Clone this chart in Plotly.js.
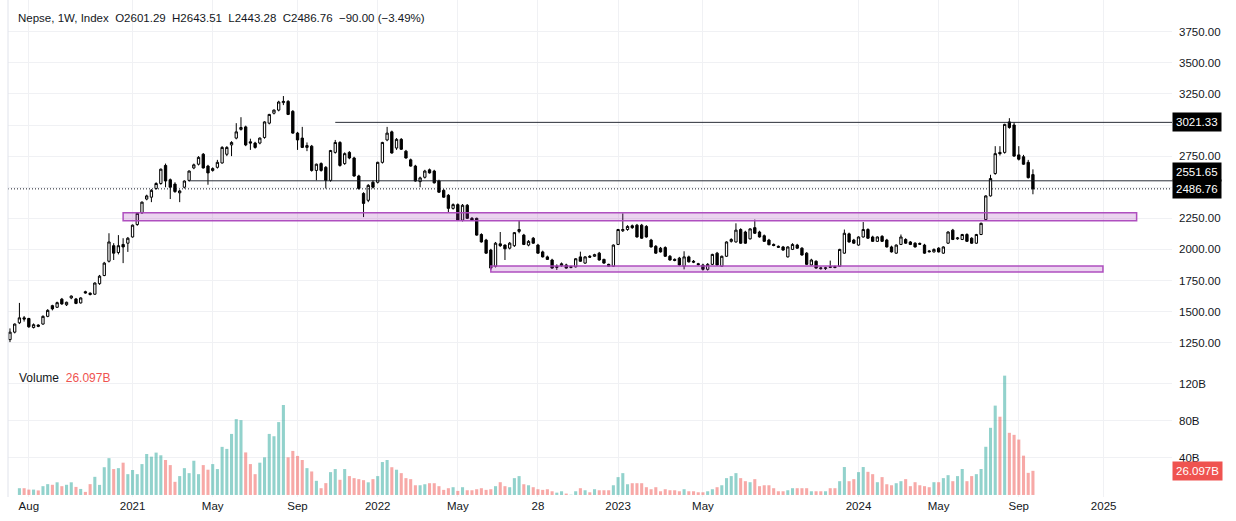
<!DOCTYPE html>
<html>
<head>
<meta charset="utf-8">
<script src="https://cdn.plot.ly/plotly-3.0.1.min.js"></script>
<style>
html,body{margin:0;padding:0;background:#ffffff;}
#chart{width:1236px;height:521px;}
</style>
</head>
<body>
<div id="chart"></div>
<script>
// Weekly bars (week start dates), NEPSE index
const dates = [
'2020-07-05','2020-07-12','2020-07-19','2020-07-26','2020-08-02','2020-08-09','2020-08-16','2020-08-23','2020-08-30','2020-09-06','2020-09-13','2020-09-20','2020-09-27','2020-10-04','2020-10-11','2020-10-18','2020-10-25','2020-11-01','2020-11-08','2020-11-15','2020-11-22','2020-11-29','2020-12-06','2020-12-13','2020-12-20','2020-12-27',
'2021-01-03','2021-01-10','2021-01-17','2021-01-24','2021-01-31','2021-02-07','2021-02-14','2021-02-21','2021-02-28','2021-03-07','2021-03-14','2021-03-21','2021-03-28','2021-04-04','2021-04-11','2021-04-18','2021-04-25','2021-05-02','2021-05-09','2021-05-16','2021-05-23','2021-05-30','2021-06-06','2021-06-13','2021-06-20','2021-06-27','2021-07-04','2021-07-11','2021-07-18','2021-07-25','2021-08-01','2021-08-08','2021-08-15','2021-08-22','2021-08-29','2021-09-05','2021-09-12','2021-09-19','2021-09-26','2021-10-03','2021-10-10','2021-10-17','2021-10-24','2021-10-31','2021-11-07','2021-11-14','2021-11-21','2021-11-28','2021-12-05','2021-12-12','2021-12-19','2021-12-26',
'2022-01-02','2022-01-09','2022-01-16','2022-01-23','2022-01-30','2022-02-06','2022-02-13','2022-02-20','2022-02-27','2022-03-06','2022-03-13','2022-03-20','2022-03-27','2022-04-03','2022-04-10','2022-04-17','2022-04-24','2022-05-01','2022-05-08','2022-05-15','2022-05-22','2022-05-29','2022-06-05','2022-06-12','2022-06-19','2022-06-26','2022-07-03','2022-07-10','2022-07-17','2022-07-24','2022-07-31','2022-08-07','2022-08-14','2022-08-21','2022-08-28','2022-09-04','2022-09-11','2022-09-18','2022-09-25','2022-10-09','2022-10-16','2022-10-23','2022-10-30','2022-11-06','2022-11-13','2022-11-20','2022-11-27','2022-12-04','2022-12-11','2022-12-18','2022-12-25',
'2023-01-01','2023-01-08','2023-01-15','2023-01-22','2023-01-29','2023-02-05','2023-02-12','2023-02-19','2023-02-26','2023-03-05','2023-03-12','2023-03-19','2023-03-26','2023-04-02','2023-04-09','2023-04-16','2023-04-23','2023-04-30','2023-05-07','2023-05-14','2023-05-21','2023-05-28','2023-06-04','2023-06-11','2023-06-18','2023-06-25','2023-07-02','2023-07-09','2023-07-16','2023-07-23','2023-07-30','2023-08-06','2023-08-13','2023-08-20','2023-08-27','2023-09-03','2023-09-10','2023-09-17','2023-09-24','2023-10-01','2023-10-08','2023-10-15','2023-10-29','2023-11-05','2023-11-19','2023-11-26','2023-12-03','2023-12-10','2023-12-17','2023-12-24','2023-12-31',
'2024-01-07','2024-01-14','2024-01-21','2024-01-28','2024-02-04','2024-02-11','2024-02-18','2024-02-25','2024-03-03','2024-03-10','2024-03-17','2024-03-24','2024-03-31','2024-04-07','2024-04-14','2024-04-21','2024-04-28','2024-05-05','2024-05-12','2024-05-19','2024-05-26','2024-06-02','2024-06-09','2024-06-16','2024-06-23','2024-06-30','2024-07-07','2024-07-14','2024-07-21','2024-07-28','2024-08-04','2024-08-11','2024-08-18','2024-08-25','2024-09-01','2024-09-08','2024-09-15','2024-09-22'
];

const open = [
1275,1335,1410,1450,1445,1372,1392,1400,1462,1548,1535,1600,1555,1610,1602,1570,1660,1648,1640,1725,
1790,1905,2030,1975,2040,2050,2100,2200,2295,2405,2420,2490,2530,2675,2560,2525,2455,2500,2555,2655,
2685,2765,2670,2635,2660,2695,2765,2840,2895,2965,2985,2865,2855,2855,2900,3015,3095,3120,3180,3190,
3110,2935,2895,2820,2830,2635,2690,2660,2555,2780,2860,2690,2780,2735,2590,2450,2395,2540,2540,2700,
2880,2945,2815,2885,2790,2720,2670,2545,2580,2640,2630,2550,2475,2435,2330,2360,2235,2355,2250,2250,
2120,2075,1995,1865,2045,2035,2010,2030,2145,2115,2035,2090,2035,1980,1940,1915,1855,1870,1875,1855,
1860,1940,1890,1945,1945,1970,1920,1880,1865,2040,2150,2160,2190,2195,2195,2185,2075,2025,2010,2015,
1945,1920,1930,1865,1940,1905,1885,1875,1840,1880,1970,1865,1945,2065,2060,2160,2140,2085,2175,2140,
2110,2075,2040,2025,2020,1940,2000,2035,2010,1970,1875,1905,1852,1846,1862,1862,1865,1970,2125,2075,
2035,2100,2160,2100,2065,2105,2075,2020,1970,2040,2080,2060,2050,2048,2035,1988,1980,2010,1970,2050,
2155,2085,2080,2120,2090,2050,2120,2240,2430,2610,2780,2780,3025,3000,2760,2745,2700,2601.29
];
const high = [
1365,1405,1570,1465,1450,1405,1398,1470,1520,1555,1580,1610,1580,1630,1610,1615,1668,1655,1735,1795,
1900,2130,2050,2115,2090,2100,2200,2295,2385,2440,2485,2540,2650,2690,2570,2540,2480,2555,2635,2690,
2750,2775,2680,2660,2720,2830,2830,2870,3015,3063,2995,2890,2865,2900,3030,3090,3125,3195,3233,3200,
3120,2945,2985,2860,2840,2690,2700,2670,2800,2880,2870,2780,2790,2745,2600,2460,2525,2555,2705,2865,
2985,2955,2895,2895,2800,2730,2680,2585,2640,2650,2640,2560,2485,2445,2370,2370,2365,2365,2260,2255,
2130,2085,2005,2060,2140,2040,2060,2140,2235,2125,2075,2100,2045,1990,1950,1925,1880,1895,1885,1870,
1930,1982,1945,1955,1965,1980,1925,1885,2040,2165,2290,2195,2200,2205,2205,2195,2085,2035,2020,2025,
1955,1928,1940,1985,1950,1915,1892,1885,1890,1965,1980,1950,2065,2090,2210,2170,2150,2170,2240,2150,
2120,2085,2048,2032,2028,2025,2050,2045,2018,1978,1925,1912,1860,1860,1910,1870,2005,2160,2135,2085,
2105,2220,2170,2110,2105,2115,2085,2030,2040,2120,2090,2068,2058,2056,2045,1995,2008,2018,2025,2145,
2165,2100,2125,2130,2098,2125,2215,2435,2600,2830,2830,3010,3055,3020,2830,2760,2720,2643.51
];
const low = [
1255,1325,1400,1420,1370,1365,1375,1395,1455,1510,1530,1555,1545,1600,1560,1565,1645,1630,1635,1715,
1785,1895,1915,1960,1890,1980,2095,2190,2285,2395,2380,2480,2520,2500,2405,2455,2380,2490,2545,2645,
2675,2650,2520,2625,2650,2690,2750,2750,2885,2955,2830,2800,2810,2845,2890,3005,3085,3110,3160,3080,
2930,2800,2815,2790,2625,2555,2625,2490,2545,2770,2665,2680,2725,2585,2480,2260,2380,2490,2530,2690,
2870,2770,2800,2800,2730,2665,2545,2500,2570,2610,2530,2455,2415,2300,2320,2230,2225,2245,2230,2110,
2055,1965,1835,1855,2020,1915,2000,2020,2130,2035,2025,2045,1965,1935,1915,1845,1835,1860,1845,1848,
1855,1900,1885,1932,1940,1910,1885,1860,1860,2035,2140,2150,2165,2095,2085,2095,2015,1965,1975,1940,
1910,1905,1870,1840,1895,1890,1870,1830,1830,1875,1870,1860,1940,2055,2055,2045,2045,2080,2125,2095,
2060,2033,2025,2012,1990,1935,1995,2005,1950,1875,1870,1845,1838,1835,1850,1848,1860,1965,2055,2045,
2030,2095,2085,2060,2060,2060,2015,1975,1965,2035,2045,2035,2015,2036,1965,1975,1975,1975,1965,2045,
2075,2078,2075,2060,2045,2045,2115,2235,2425,2600,2755,2770,2970,2745,2715,2680,2570,2443.28
];
const close = [
1335,1400,1450,1440,1378,1395,1382,1462,1510,1522,1572,1562,1575,1625,1566,1610,1650,1638,1730,1785,
1890,2060,1970,2030,2020,2090,2195,2290,2380,2430,2475,2530,2645,2550,2500,2465,2470,2550,2630,2680,
2740,2655,2615,2650,2700,2820,2820,2860,2945,2980,2840,2855,2820,2895,3025,3085,3120,3185,3190,3085,
2935,2880,2820,2835,2635,2685,2635,2555,2795,2860,2675,2770,2735,2590,2490,2370,2515,2500,2700,2860,
2935,2775,2885,2805,2735,2670,2550,2575,2630,2615,2535,2460,2420,2330,2360,2235,2355,2250,2235,2115,
2060,1970,1850,2050,2030,2005,2050,2135,2160,2040,2065,2050,1970,1940,1920,1850,1865,1885,1850,1862,
1925,1905,1940,1938,1958,1915,1890,1865,2035,2160,2160,2185,2175,2100,2090,2100,2020,1970,1980,1945,
1915,1912,1875,1940,1900,1898,1878,1840,1880,1960,1875,1945,2060,2080,2155,2050,2050,2165,2130,2100,
2065,2038,2032,2018,1995,2020,2040,2010,1955,1880,1915,1850,1846,1852,1856,1855,2000,2130,2060,2050,
2100,2160,2090,2065,2100,2065,2020,1980,2035,2100,2050,2040,2020,2042,1970,1982,2000,1980,2020,2140,
2080,2092,2120,2065,2050,2120,2210,2430,2570,2770,2770,3005,2980,2750,2725,2685,2576.76,2486.76
];
// Weekly volume, billions (first two weeks not shown in the reference)
const volume = [
null,null,7.3,7.3,5.8,5.8,4.9,9.5,11.7,11.0,13.7,9.5,11.0,13.7,8.7,6.5,3.3,11.7,19.6,10.9,
30.0,39.8,28.0,29.0,34.9,22.5,27.0,22.5,33.4,44.3,41.4,45.8,42.9,37.8,32.3,14.2,20.4,29.0,23.6,37.0,
22.5,32.3,27.3,33.4,28.0,52.0,49.8,66.0,82.0,80.9,46.0,33.4,22.5,34.9,40.7,66.0,63.5,78.8,97.3,40.7,
47.6,42.2,37.8,29.0,25.4,15.3,7.3,12.8,24.7,28.0,16.4,28.0,20.4,18.2,17.1,16.0,13.7,17.1,20.4,35.6,
37.8,30.0,27.3,23.6,18.2,17.1,10.5,10.5,11.6,12.7,12.7,9.5,5.5,7.3,8.4,4.4,8.4,5.1,5.1,6.2,
7.3,5.5,6.2,9.5,13.8,9.5,8.4,18.2,20.4,11.6,10.5,8.4,6.2,5.5,6.2,4.0,2.5,4.0,1.5,0.3,
4.0,7.3,5.1,2.9,6.2,5.1,5.1,5.1,10.5,19.3,23.6,11.6,12.7,12.7,12.7,8.4,6.2,8.4,4.0,6.2,
5.1,5.1,4.0,6.2,4.0,4.0,2.9,2.9,4.0,6.2,8.4,10.5,18.2,20.4,23.6,18.2,14.9,13.8,17.1,9.5,
10.5,10.5,7.3,4.0,4.0,5.1,7.3,7.3,7.3,7.3,4.0,4.0,4.0,4.0,7.3,7.3,14.9,30.2,14.9,17.1,
24.7,30.2,25.0,22.5,13.8,19.3,11.6,10.5,12.7,14.9,17.1,9.5,13.8,10.5,9.5,8.4,13.8,13.8,18.2,21.4,
14.9,20.4,28.1,14.9,20.4,22.5,28.1,52.1,72.6,96.6,84.6,129.0,67.2,65.0,59.9,42.5,23.9,26.097
];

const tickDates = ['2020-08-02','2021-01-03','2021-05-02','2021-09-05','2022-01-02','2022-05-01','2022-08-28','2023-01-01','2023-05-07','2024-01-07','2024-05-05','2024-09-01','2025-01-05'];
const tickLabels = ['Aug','2021','May','Sep','2022','May','28','2023','May','2024','May','Sep','2025'];
const priceTicks = [1250,1500,1750,2000,2250,2500,2750,3000,3250,3500,3750];
// 2500 and 3000 labels are hidden behind the price boxes in the reference
const priceTickLabels = ['1250.00','1500.00','1750.00','2000.00','2250.00','','2750.00','','3250.00','3500.00','3750.00'];
const volumeTicks = [40,80,120];
const volumeTickLabels = ['40B','80B','120B'];

// Drawings on the chart
const levelPrices = [3021.33, 2551.65];
const levelStarts = ['2021-10-31','2021-03-28'];
const zoneLows = [2231, 1818];
const zoneHighs = [2295, 1866];
const zoneStarts = ['2020-12-20','2022-06-19'];
const zoneEnds = ['2025-02-23','2025-01-04'];

// ---- helpers ----
const DAY = 86400000;
const last = dates.length - 1;
function pos(d){
  const i = dates.indexOf(d);
  if (i >= 0) return i;
  const t = Date.parse(d);
  const tl = Date.parse(dates[last]);
  if (t > tl) return last + (t - tl) / (7*DAY);
  for (let k = 0; k < last; k++){
    const a = Date.parse(dates[k]), b = Date.parse(dates[k+1]);
    if (t >= a && t <= b) return k + (t - a)/(b - a);
  }
  return 0;
}
const xRange = [-0.42, 246.5];
const TEXT = '#131722';
const GRID = '#f0f1f4';
const UP_VOL = 'rgba(38,166,154,0.5)';
const DN_VOL = 'rgba(239,83,80,0.5)';

const volColors = close.map((c,i)=> c >= open[i] ? UP_VOL : DN_VOL);

const candle = {
  type:'candlestick', x:dates, open:open, high:high, low:low, close:close,
  xaxis:'x', yaxis:'y',
  increasing:{line:{color:'#000000', width:1}, fillcolor:'#ffffff'},
  decreasing:{line:{color:'#000000', width:1}, fillcolor:'#000000'},
  whiskerwidth:0, hoverinfo:'skip', showlegend:false
};
const vol = {
  type:'bar', x:dates, y:volume, xaxis:'x', yaxis:'y2',
  marker:{color:volColors, line:{width:0}}, hoverinfo:'skip', showlegend:false
};

const lastClose = close[last];
const prevClose = close[last-1];
const chg = lastClose - prevClose;
const pct = chg / prevClose * 100;
const minus = v => (v < 0 ? '\u2212' : '') + Math.abs(v).toFixed(2);
const sp = '\u00a0\u00a0';

const shapes = [];
for (let i = 0; i < zoneLows.length; i++){
  shapes.push({type:'rect', xref:'x', yref:'y', x0:pos(zoneStarts[i]), x1:pos(zoneEnds[i]),
    y0:zoneLows[i], y1:zoneHighs[i], fillcolor:'rgba(156,39,176,0.2)',
    line:{color:'rgba(171,71,188,0.95)', width:1.5}, layer:'above'});
}
for (let i = 0; i < levelPrices.length; i++){
  shapes.push({type:'line', xref:'x', yref:'y', x0:pos(levelStarts[i]), x1:xRange[1],
    y0:levelPrices[i], y1:levelPrices[i], line:{color:'rgba(19,23,34,0.9)', width:1}});
}
shapes.push({type:'line', xref:'paper', yref:'y', x0:0, x1:1, y0:lastClose, y1:lastClose,
  line:{color:'#131722', width:1, dash:'1px,2px'}});
shapes.push({type:'line', xref:'paper', yref:'paper', x0:0, x1:0, y0:0, y1:1,
  line:{color:'#e0e3eb', width:1}});

const boxFont = {color:'#ffffff', size:11.5, family:'Liberation Sans, Arial, sans-serif'};
const annotations = [
  {xref:'paper', yref:'paper', x:0, y:1, xanchor:'left', yanchor:'middle', xshift:8, yshift:-18,
   showarrow:false, align:'left',
   text:'Nepse, 1W, Index' + sp + 'O' + open[last].toFixed(2) + sp + 'H' + high[last].toFixed(2) + sp +
        'L' + low[last].toFixed(2) + sp + 'C' + lastClose.toFixed(2) + sp + minus(chg) + ' (' + minus(pct) + '%)',
   font:{size:11.5, color:TEXT}},
  {xref:'paper', yref:'paper', x:0, y:0.2596, xanchor:'left', yanchor:'middle', xshift:9, yshift:-10,
   showarrow:false, align:'left',
   text:'Volume' + sp + '<span style="color:#ef5350">' + volume[last].toFixed(3) + 'B</span>',
   font:{size:12, color:TEXT}},
  {xref:'paper', yref:'y', x:1, y:levelPrices[0], xanchor:'left', yanchor:'middle', showarrow:false,
   text:levelPrices[0].toFixed(2), bgcolor:'#000000', borderpad:3, font:boxFont},
  {xref:'paper', yref:'y', x:1, y:levelPrices[1], xanchor:'left', yanchor:'middle', yshift:9, showarrow:false,
   text:levelPrices[1].toFixed(2), bgcolor:'#000000', borderpad:3, font:boxFont},
  {xref:'paper', yref:'y', x:1, y:lastClose, xanchor:'left', yanchor:'middle', showarrow:false,
   text:lastClose.toFixed(2), bgcolor:'#000000', borderpad:3, font:boxFont},
  {xref:'paper', yref:'y2', x:1, y:volume[last], xanchor:'left', yanchor:'middle', showarrow:false,
   text:volume[last].toFixed(3) + 'B', bgcolor:'#ef5350', borderpad:3, font:boxFont}
];

const layout = {
  width:1236, height:521,
  margin:{l:8, r:64, t:0, b:24},
  paper_bgcolor:'#ffffff', plot_bgcolor:'#ffffff',
  showlegend:false, bargap:0.35, dragmode:false,
  font:{family:'Liberation Sans, Arial, sans-serif', color:TEXT, size:11.5},
  xaxis:{type:'category', range:xRange, rangeslider:{visible:false}, anchor:'y2',
    tickmode:'array', tickvals:tickDates.map(pos), ticktext:tickLabels,
    showgrid:true, gridcolor:GRID, zeroline:false, showline:false, ticks:'',
    tickfont:{size:11.5, color:TEXT}, fixedrange:true},
  yaxis:{domain:[0.2596,1], range:[1047,4005], side:'right', anchor:'x',
    tickmode:'array', tickvals:priceTicks, ticktext:priceTickLabels,
    showgrid:true, gridcolor:GRID, zeroline:false, showline:false, ticks:'',
    ticklabelstandoff:6, tickfont:{size:11.5, color:TEXT}, fixedrange:true},
  yaxis2:{domain:[0,0.2596], range:[-2.2,137.3], side:'right', anchor:'x',
    tickmode:'array', tickvals:volumeTicks, ticktext:volumeTickLabels,
    showgrid:true, gridcolor:GRID, zeroline:false, showline:false, ticks:'',
    ticklabelstandoff:6, tickfont:{size:11.5, color:TEXT}, fixedrange:true},
  shapes:shapes, annotations:annotations
};

Plotly.newPlot('chart', [candle, vol], layout, {displayModeBar:false, staticPlot:true});
</script>
</body>
</html>
